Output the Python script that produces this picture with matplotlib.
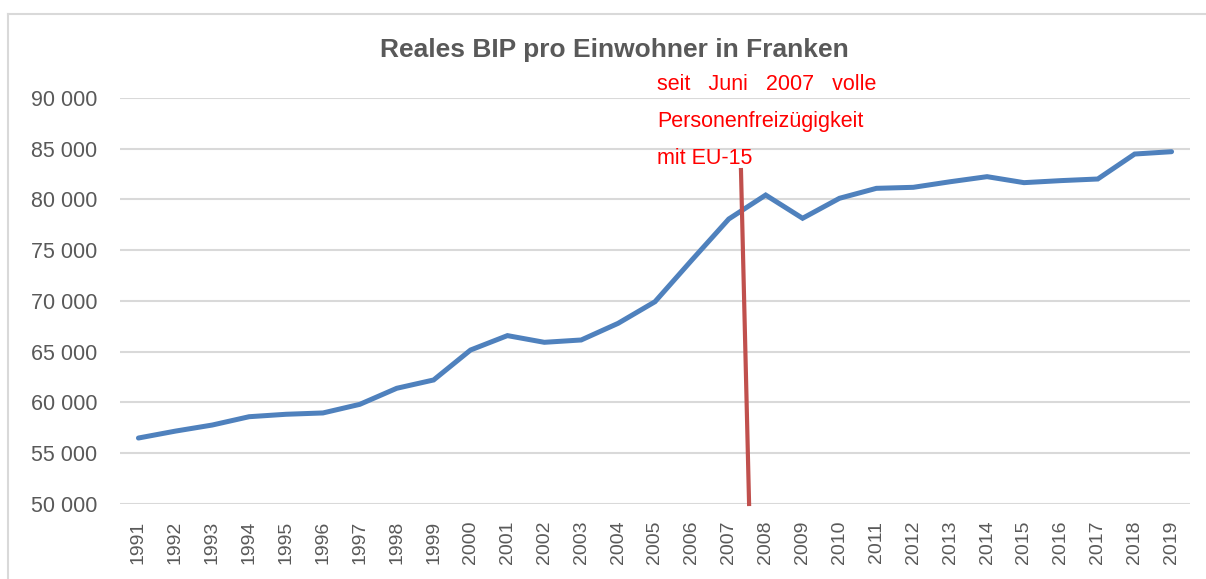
import matplotlib
matplotlib.use("Agg")
import matplotlib.pyplot as plt
from matplotlib.lines import Line2D
from matplotlib.ticker import FuncFormatter

years = list(range(1991, 2020))
bip = [56500, 57180, 57780, 58600, 58840, 58970, 59820, 61400, 62220, 65170,
       66590, 65930, 66160, 67800, 69930, 74040, 78080, 80440, 78150, 80120,
       81100, 81200, 81750, 82250, 81660, 81860, 82020, 84480, 84710]

# red marker line (June 2007), hand-drawn slightly slanted in the original
marker_x = [2007.33, 2007.55]
marker_y = [82900, 50000]
note_lines = ["seit   Juni   2007   volle", "Personenfreizügigkeit", "mit EU-15"]

GRAY = "#595959"
GRID = "#D9D9D9"

plt.rcParams["font.family"] = ["Liberation Sans", "DejaVu Sans"]

fig = plt.figure(figsize=(12.06, 5.79), dpi=100)
ax = fig.add_axes([120 / 1206, 1 - 504 / 579, 1070 / 1206, 406 / 579])

ax.plot(years, bip, color="#4F81BD", lw=3.6, solid_capstyle="round",
        solid_joinstyle="miter", zorder=3)
ax.plot(marker_x, marker_y, color="#C0504D", lw=3.0, zorder=4, clip_on=False)

ax.set_xlim(1990.5, 2019.5)
ax.set_ylim(50000, 90000)
ax.set_yticks(range(50000, 90001, 5000))
ax.set_xticks(years)
ax.set_xticklabels([str(y) for y in years], rotation=90)
ax.yaxis.set_major_formatter(FuncFormatter(lambda v, p: f"{int(v):,}".replace(",", " ")))
ax.grid(axis="y", color=GRID, lw=1.5)
ax.set_axisbelow(True)
for s in ax.spines.values():
    s.set_visible(False)
ax.tick_params(length=0, colors=GRAY, labelsize=14)
ax.tick_params(axis="y", pad=16.5, labelsize=15.5)
ax.tick_params(axis="x", pad=12)

fig.text(614 / 1206, 1 - 50 / 579, "Reales BIP pro Einwohner in Franken",
         ha="center", va="center", fontsize=19, fontweight="bold", color=GRAY)

for txt, ypx in zip(note_lines, [85, 122, 158]):
    fig.text(657 / 1206, 1 - ypx / 579, txt, ha="left", va="center",
             fontsize=15.5, color="#FF0000")

# chart border (only top and left edges visible in the crop)
fig.add_artist(Line2D([8 / 1206, 8 / 1206], [0, 1 - 14 / 579], color=GRID, lw=1.5))
fig.add_artist(Line2D([8 / 1206, 1], [1 - 14 / 579, 1 - 14 / 579], color=GRID, lw=1.5))

fig.savefig("out.png", dpi=100)
